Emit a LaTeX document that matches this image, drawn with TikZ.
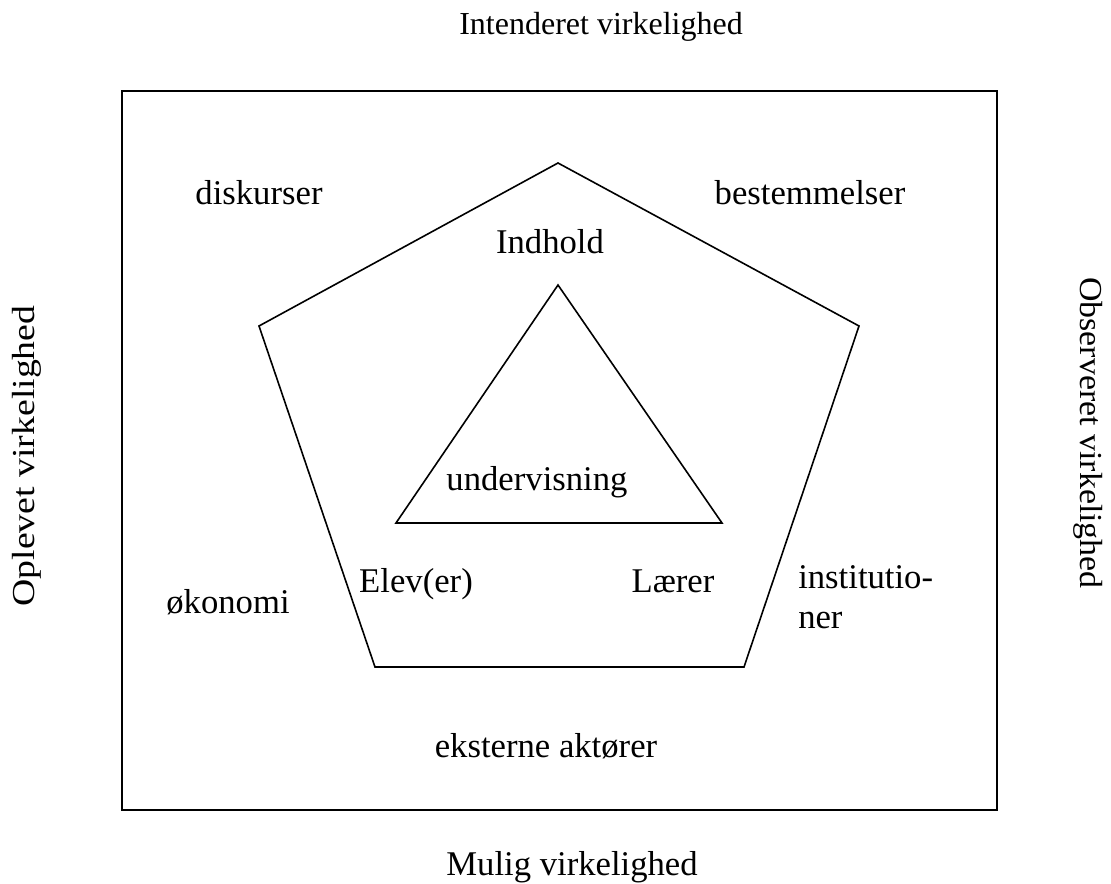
\documentclass[tikz,border=0pt]{standalone}
\usepackage{fontspec}
\setmainfont{Liberation Serif}
\begin{document}
\begin{tikzpicture}[x=0.75pt,y=-0.75pt,
  lbl/.style={font=\fontsize{26}{30}\selectfont, inner sep=0pt, anchor=base},
  outer/.style={font=\fontsize{24}{29}\selectfont, inner sep=0pt, anchor=base},
  edge/.style={draw=black, line width=1.2pt, line join=miter}]
\useasboundingbox (0,0) rectangle (1111,884);
% frame
\coordinate (fTL) at (122,91);
\coordinate (fBR) at (997,810);
\draw[edge] (fTL) rectangle (fBR);
% pentagon
\coordinate (pT) at (558,163);
\coordinate (pL) at (259,326);
\coordinate (pR) at (859,326);
\coordinate (pBL) at (375,667);
\coordinate (pBR) at (744,667);
\draw[edge] (pT) -- (pR) -- (pBR) -- (pBL) -- (pL) -- cycle;
% triangle
\coordinate (tT) at (558,285);
\coordinate (tL) at (396,523);
\coordinate (tR) at (722,523);
\draw[edge] (tT) -- (tR) -- (tL) -- cycle;
% outer texts
\node[outer] (intend) at (601,35) {Intenderet virkelighed};
\node[lbl] (mulig) at (572,875) {Mulig virkelighed};
\node[outer, rotate=90, xscale=1.18] (oplev) at (34,456) {Oplevet virkelighed};
\node[outer, rotate=-90, xscale=1.06] (observ) at (1080,433) {Observeret virkelighed};
% inner texts
\node[lbl] (disk) at (259,205) {diskurser};
\node[lbl] (best) at (810,205) {bestemmelser};
\node[lbl] (indh) at (550,254) {Indhold};
\node[lbl] (underv) at (537,490) {undervisning};
\node[lbl] (elev) at (416,592) {Elev(er)};
\node[lbl] (laerer) at (673,592) {Lærer};
\node[lbl, anchor=base west, align=left] (inst) at (798,628) {institutio-\\ner};
\node[lbl] (oekon) at (228,613) {økonomi};
\node[lbl] (ekst) at (546,757) {eksterne aktører};
\end{tikzpicture}
\end{document}
